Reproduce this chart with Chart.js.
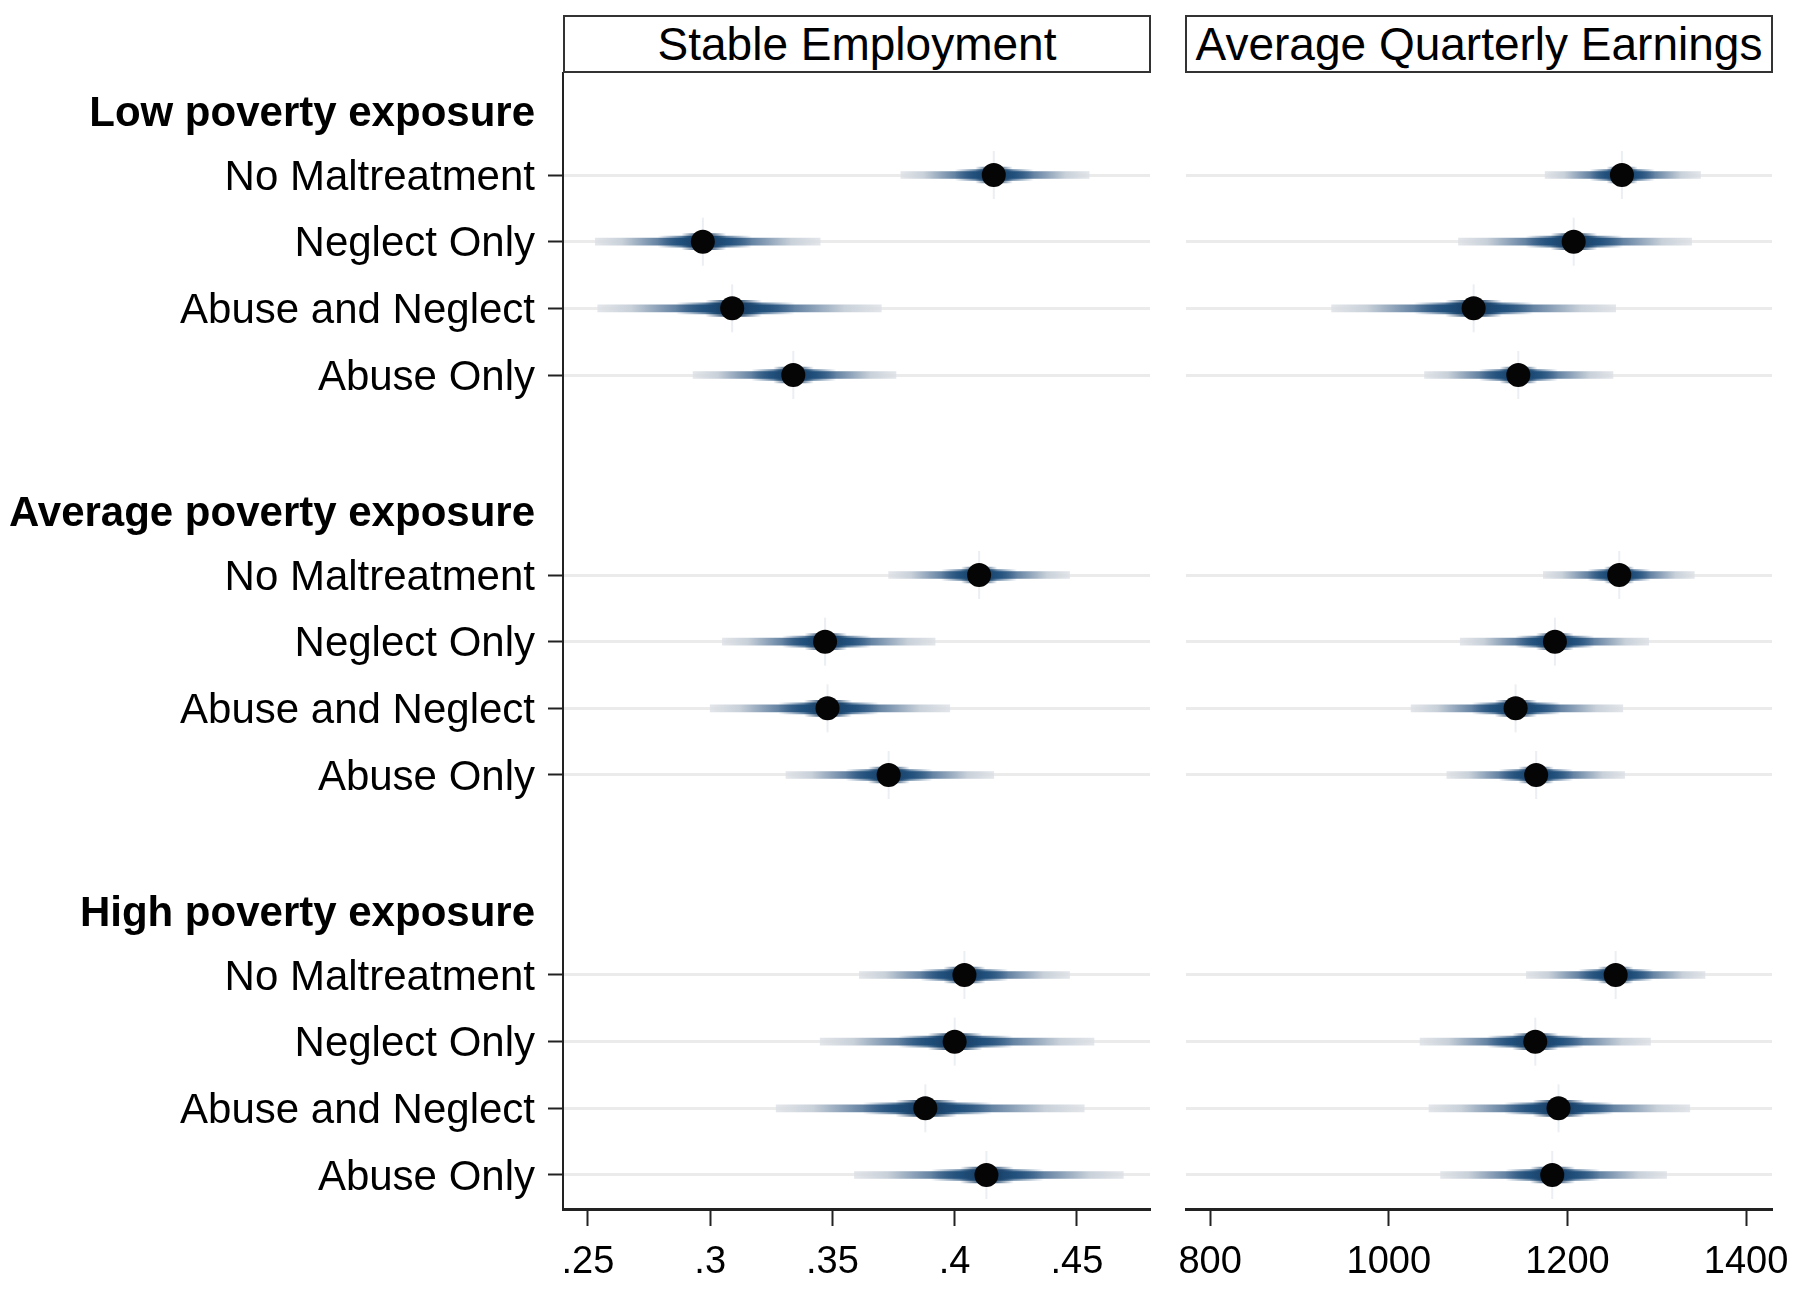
<!DOCTYPE html>
<html>
<head>
<meta charset="utf-8">
<title>Stable employment and earnings by poverty exposure</title>
<script src="https://cdn.jsdelivr.net/npm/chart.js@4.4.1/dist/chart.umd.min.js"></script>
<style>
  html, body { margin: 0; padding: 0; background: #fff; }
  body { width: 1800px; height: 1291px; position: relative; overflow: hidden;
         font-family: "Liberation Sans", Arial, sans-serif; }
  .panel { position: absolute; top: 0; height: 1291px; }
  .strip { position: absolute; top: 15px; height: 58px; box-sizing: border-box;
           border: 2px solid #333; background: #fff; color: #000;
           font-size: 46px; line-height: 54px; text-align: center; white-space: nowrap; }
</style>
</head>
<body>
<div class="panel" style="left:0;width:1160px"><canvas id="empChart"></canvas></div>
<div class="panel" style="left:1160px;width:640px"><canvas id="earnChart"></canvas></div>
<div class="strip" style="left:563px;width:588px">Stable Employment</div>
<div class="strip" style="left:1185px;width:588px">Average Quarterly Earnings</div>
<script>
const groups = ['Low poverty exposure', 'Average poverty exposure', 'High poverty exposure'];
const categories = ['No Maltreatment', 'Neglect Only', 'Abuse and Neglect', 'Abuse Only'];

// estimates and interval ends, in group order (low, average, high)
const empEst  = [0.416, 0.297, 0.309, 0.334, 0.410, 0.347, 0.348, 0.373, 0.404, 0.400, 0.388, 0.413];
const empLow  = [0.378, 0.253, 0.254, 0.293, 0.373, 0.305, 0.300, 0.331, 0.361, 0.345, 0.327, 0.359];
const empHigh = [0.455, 0.345, 0.370, 0.376, 0.447, 0.392, 0.398, 0.416, 0.447, 0.457, 0.453, 0.469];

const earnEst  = [1261, 1207, 1095, 1145, 1258, 1186, 1142, 1165, 1254, 1164, 1190, 1183];
const earnLow  = [1175, 1078, 936, 1040, 1173, 1080, 1025, 1065, 1154, 1035, 1045, 1058];
const earnHigh = [1349, 1339, 1254, 1251, 1342, 1291, 1262, 1264, 1354, 1293, 1337, 1311];

const empTicks = [0.25, 0.3, 0.35, 0.4, 0.45];
const earnTicks = [800, 1000, 1200, 1400];

const FONT = '"Liberation Sans", Arial, sans-serif';
const CLEAR = 'rgba(0,0,0,0)';
const HEADER_SHIFT = 0.05; // group headings sit a touch below their row

// rows: header, 4 categories, blank spacer, ...
const rowTicks = [];
const itemRows = [];
groups.forEach((g, gi) => {
    const base = gi * (categories.length + 2);
    rowTicks.push({ value: base + HEADER_SHIFT, label: g, head: true });
    categories.forEach((c, ci) => {
        itemRows.push(base + 1 + ci);
        rowTicks.push({ value: base + 1 + ci, label: c, head: false });
    });
});
const isItem = v => itemRows.includes(v);

// horizontal gradient running from the interval ends in to the estimate
function bandFill(est, low, high, stops) {
    return (ctx) => {
        const chart = ctx.chart;
        if (ctx.type !== 'data' || !chart.chartArea) return CLEAR;
        const i = ctx.dataIndex;
        const xs = chart.scales.x;
        const x0 = xs.getPixelForValue(low[i]);
        const xc = xs.getPixelForValue(est[i]);
        const x1 = xs.getPixelForValue(high[i]);
        const w = Math.max(x1 - x0, 1);
        const clamp = p => Math.min(1, Math.max(0, p));
        const g = chart.ctx.createLinearGradient(x0, 0, x1, 0);
        stops.forEach(([f, col]) => {
            g.addColorStop(clamp((f * (xc - x0)) / w), col);
            g.addColorStop(clamp((x1 - f * (x1 - xc) - x0) / w), col);
        });
        return g;
    };
}

const thinStops = [
    [0, 'rgba(220,224,229,0.8)'], [0.25, 'rgba(200,208,217,1)'], [0.55, 'rgba(110,138,168,1)'],
    [0.8, 'rgba(38,84,128,1)'], [1, 'rgba(24,62,100,1)']
];
const midStops = [
    [0, 'rgba(30,75,120,0)'], [0.58, 'rgba(30,75,120,0)'], [0.88, 'rgba(30,78,122,0.95)'], [1, 'rgba(22,60,98,1)']
];
const thickStops = [
    [0, 'rgba(25,65,105,0)'], [0.8, 'rgba(25,65,105,0)'], [0.97, 'rgba(22,58,95,1)'], [1, 'rgba(20,55,90,1)']
];

function makeDatasets(est, low, high) {
    const span = est.map((_, i) => ({ y: itemRows[i], x: [low[i], high[i]] }));
    const pts = est.map((v, i) => ({ x: v, y: itemRows[i] }));
    const bar = (thick, stops, order) => ({
        type: 'bar', data: span, grouped: false, barThickness: thick, borderWidth: 0,
        backgroundColor: bandFill(est, low, high, stops), order: order
    });
    return [
        { type: 'scatter', data: pts, pointRadius: 12, pointBackgroundColor: '#050505',
          pointBorderWidth: 0, order: 0 },
        { type: 'scatter', data: pts, pointStyle: 'line', rotation: 90, pointRadius: 24,
          pointBorderColor: 'rgba(120,140,165,0.15)', pointBorderWidth: 2, order: 1 },
        bar(16, thickStops, 2),
        bar(11, midStops, 3),
        bar(7, thinStops, 4)
    ];
}

function makeChart(id, est, low, high, xMin, xMax, xTicks, showLabels, leftWidth, padRight) {
    return new Chart(document.getElementById(id), {
        type: 'bar',
        data: { datasets: makeDatasets(est, low, high) },
        options: {
            indexAxis: 'y',
            responsive: true,
            maintainAspectRatio: false,
            animation: false,
            layout: { autoPadding: false, padding: { top: 73, right: padRight, bottom: 0, left: 0 } },
            plugins: { legend: { display: false }, tooltip: { enabled: false } },
            scales: {
                x: {
                    type: 'linear',
                    min: xMin,
                    max: xMax,
                    offset: false,
                    afterBuildTicks: s => { s.ticks = xTicks.map(v => ({ value: v })); },
                    afterFit: s => { s.height = 82; s.paddingLeft = 0; s.paddingRight = 0; },
                    ticks: {
                        autoSkip: false,
                        maxRotation: 0,
                        padding: 14,
                        color: '#000',
                        font: { family: FONT, size: 38 },
                        callback: v => String(v).replace(/^0\./, '.')
                    },
                    grid: { offset: false, drawOnChartArea: false, drawTicks: true, tickLength: 17, tickWidth: 2, tickColor: '#222' },
                    border: { color: '#222', width: 3 }
                },
                y: {
                    type: 'linear',
                    reverse: true,
                    min: -0.53,
                    max: 16.51,
                    offset: false,
                    afterBuildTicks: s => { s.ticks = rowTicks.map(t => ({ value: t.value })); },
                    afterFit: s => { s.width = leftWidth; s.paddingTop = 0; s.paddingBottom = 0; },
                    ticks: {
                        display: showLabels,
                        autoSkip: false,
                        padding: 13,
                        labelOffset: 3,
                        color: '#000',
                        font: ctx => {
                            const head = ctx.index !== undefined && rowTicks[ctx.index] && rowTicks[ctx.index].head;
                            return { family: FONT, size: 42, weight: head ? 'bold' : 'normal' };
                        },
                        callback: (v, i) => rowTicks[i].label
                    },
                    grid: {
                        offset: false,
                        color: ctx => (ctx.tick && isItem(ctx.tick.value)) ? '#ebebeb' : CLEAR,
                        lineWidth: 3,
                        drawTicks: showLabels,
                        tickLength: 15,
                        tickWidth: 2,
                        tickColor: ctx => (ctx.tick && isItem(ctx.tick.value)) ? '#222' : CLEAR
                    },
                    border: { display: showLabels, color: '#222', width: 2 }
                }
            }
        }
    });
}

makeChart('empChart', empEst, empLow, empHigh, 0.2398, 0.4799, empTicks, true, 563, 10);
makeChart('earnChart', earnEst, earnLow, earnHigh, 773, 1429, earnTicks, false, 26, 28);
</script>
</body>
</html>
